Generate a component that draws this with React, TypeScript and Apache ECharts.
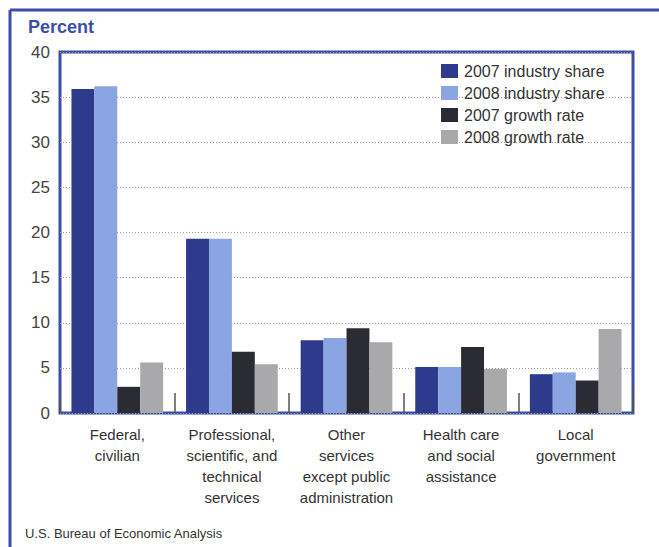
import React, { useEffect, useRef } from "react";
import * as echarts from "echarts";

const categories = [
  "Federal,\ncivilian",
  "Professional,\nscientific, and\ntechnical\nservices",
  "Other\nservices\nexcept public\nadministration",
  "Health care\nand social\nassistance",
  "Local\ngovernment",
];
const share2007 = [35.9, 19.3, 8.05, 5.1, 4.3];
const share2008 = [36.2, 19.3, 8.3, 5.1, 4.5];
const growth2007 = [2.9, 6.8, 9.4, 7.3, 3.6];
const growth2008 = [5.6, 5.4, 7.85, 4.9, 9.3];
const seriesNames = ["2007 industry share", "2008 industry share", "2007 growth rate", "2008 growth rate"];
const seriesColors = ["#2e3b8c", "#8aa5e2", "#2b2c33", "#a9a9ab"];

const FRAME = "#3d4ea6";
const FONT = "'Liberation Sans', Arial, sans-serif";

export default function App() {
  const ref = useRef<HTMLDivElement>(null);
  useEffect(() => {
    document.body.style.margin = "0";
    const chart = echarts.init(ref.current!, null, { renderer: "svg" });
    const data = [share2007, share2008, growth2007, growth2008];
    chart.setOption({
      animation: false,
      backgroundColor: "#ffffff",
      textStyle: { fontFamily: FONT },
      grid: {
        left: 60,
        top: 52,
        right: 26,
        bottom: 134,
        show: true,
        borderColor: FRAME,
        borderWidth: 3,
        backgroundColor: "transparent",
      },
      legend: {
        orient: "vertical",
        left: 441,
        top: 63,
        padding: 0,
        itemWidth: 17,
        itemHeight: 14,
        itemGap: 6,
        icon: "rect",
        data: seriesNames,
        textStyle: {
          fontFamily: FONT,
          fontSize: 16,
          color: "#333",
          lineHeight: 16,
          padding: [0, 0, 0, 1],
        },
      },
      xAxis: {
        type: "category",
        data: categories,
        axisLine: { show: false },
        axisTick: {
          show: true,
          inside: true,
          length: 20,
          lineStyle: { color: "#555", width: 1.5 },
        },
        axisLabel: {
          fontFamily: FONT,
          fontSize: 15,
          lineHeight: 21,
          color: "#333",
          margin: 11,
          interval: 0,
        },
      },
      yAxis: {
        type: "value",
        min: 0,
        max: 40,
        interval: 5,
        axisLine: { show: false },
        axisTick: { show: false },
        axisLabel: {
          fontFamily: FONT,
          fontSize: 17,
          color: "#444",
          margin: 10,
        },
        splitLine: {
          show: true,
          lineStyle: { color: "#9a9a9a", width: 1, type: [1, 2] },
        },
      },
      series: seriesNames.map((name, i) => ({
        name,
        type: "bar",
        data: data[i],
        barGap: "0%",
        barCategoryGap: "20%",
        itemStyle: { color: seriesColors[i] },
      })),
      graphic: [
        {
          type: "line",
          shape: { x1: 10, y1: 10, x2: 659, y2: 10 },
          style: { stroke: FRAME, lineWidth: 3 },
        },
        {
          type: "line",
          shape: { x1: 10, y1: 10, x2: 10, y2: 547 },
          style: { stroke: FRAME, lineWidth: 3 },
        },
        {
          type: "text",
          left: 28,
          top: 18,
          style: {
            text: "Percent",
            fontFamily: FONT,
            fontSize: 18,
            fontWeight: "bold",
            fill: FRAME,
          },
        },
        {
          type: "text",
          left: 25,
          top: 527,
          style: {
            text: "U.S. Bureau of Economic Analysis",
            fontFamily: FONT,
            fontSize: 13,
            fill: "#333",
          },
        },
      ],
    });
    return () => chart.dispose();
  }, []);
  return <div ref={ref} style={{ width: 659, height: 547 }} />;
}
